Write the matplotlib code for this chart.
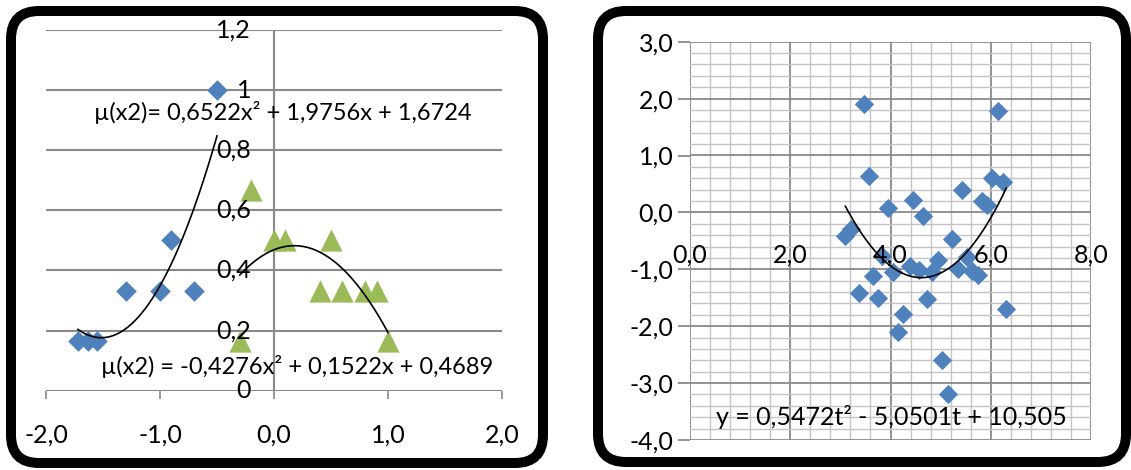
import numpy as np
import matplotlib
matplotlib.use("Agg")
import matplotlib.pyplot as plt
from matplotlib.patches import FancyBboxPatch

plt.rcParams['font.family'] = ['Lato', 'DejaVu Sans']

# left chart: two groups with quadratic trends
blue_x = [-1.72, -1.63, -1.55, -1.3, -1.0, -0.9, -0.7, -0.5]
blue_y = [0.167, 0.167, 0.167, 0.333, 0.333, 0.5, 0.333, 1.0]
green_x = [-0.3, -0.2, 0.0, 0.1, 0.4, 0.5, 0.6, 0.8, 0.9, 1.0]
green_y = [0.167, 0.667, 0.5, 0.5, 0.333, 0.5, 0.333, 0.333, 0.333, 0.167]
blue_coef = [0.6522, 1.9756, 1.6724]
green_coef = [-0.4276, 0.1522, 0.4689]
left_yticks = [0, 0.2, 0.4, 0.6, 0.8, 1.0, 1.2]
left_xticks = [-2, -1, 0, 1, 2]

# right chart: scatter with quadratic trend in t
t_vals = [3.48, 6.14, 3.58, 6.02, 6.25, 5.42, 4.45, 5.82, 5.93, 3.95, 4.64,
          5.22, 3.10, 3.22, 3.84, 4.94, 5.52, 3.66, 4.04, 4.38, 4.56, 4.82,
          5.34, 5.62, 5.75, 3.37, 3.76, 4.73, 6.31, 4.24, 4.15, 5.03, 5.14]
y_vals = [1.90, 1.79, 0.64, 0.60, 0.54, 0.40, 0.22, 0.20, 0.13, 0.07, -0.07,
          -0.47, -0.41, -0.30, -0.77, -0.83, -0.78, -1.11, -1.04, -0.95, -1.01, -1.04,
          -0.99, -1.03, -1.10, -1.41, -1.50, -1.52, -1.69, -1.79, -2.10, -2.60, -3.19]
right_coef = [0.5472, -5.0501, 10.505]
right_xticks = [0, 2, 4, 6, 8]
right_yticks = [-4, -3, -2, -1, 0, 1, 2, 3]

BLUE = '#4F81BD'
GREEN = '#9BBB59'
GRID = '#8a8a8a'
MINOR = '#c4c4c4'
FS = 18

W, H = 1131, 470
fig = plt.figure(figsize=(W / 100, H / 100), dpi=100)


def px_axes(x0, x1, ytop, ybot):
    return fig.add_axes([x0 / W, (H - ybot) / H, (x1 - x0) / W, (ybot - ytop) / H])


def comma(v, fmt):
    return format(v, fmt).replace('.', ',')


# rounded frames around both charts
frame = fig.add_axes([0, 0, 1, 1], zorder=5)
frame.set_xlim(0, W)
frame.set_ylim(H, 0)
frame.axis('off')
frame.patch.set_alpha(0)
for x0, x1, y0, y1 in [(11, 543, 11, 463), (598, 1126, 11, 462)]:
    frame.add_patch(FancyBboxPatch((x0, y0), x1 - x0, y1 - y0,
                                   boxstyle='round,pad=0,rounding_size=28',
                                   fill=False, lw=7.2, ec='black'))

# ---- left chart ----
ax = px_axes(46, 502, 30, 390.7)
ax.set_xlim(-2, 2)
ax.set_ylim(0, 1.2)
for s in ax.spines.values():
    s.set_visible(False)
for v in left_yticks:
    ax.axhline(v, color=GRID, lw=1.5, zorder=1)
    ax.text(-0.2, v, comma(v, 'g'), ha='right', va='center', fontsize=FS, zorder=4)
ax.plot([0, 0], [0, 1.2], color=GRID, lw=1.5, zorder=1)
ax.set_yticks([])
ax.set_xticks(left_xticks)
ax.set_xticklabels([comma(v, '.1f') for v in left_xticks], fontsize=FS)
ax.tick_params(axis='x', direction='out', length=6, width=1.2, color=GRID, pad=18)

ax.scatter(blue_x, blue_y, marker='D', s=10.5 ** 2, color=BLUE, zorder=3, linewidths=0)
ax.scatter(green_x, green_y, marker='^', s=16 ** 2, color=GREEN, zorder=3, linewidths=0)
bx = np.linspace(min(blue_x), max(blue_x), 200)
ax.plot(bx, np.polyval(blue_coef, bx), color='black', lw=1.2, zorder=3)
gx = np.linspace(min(green_x), max(green_x), 200)
ax.plot(gx, np.polyval(green_coef, gx), color='black', lw=1.2, zorder=3)
ax.text(0.075, 0.924, 'µ(x2)= 0,6522x² + 1,9756x + 1,6724', ha='center', va='center',
        fontsize=17, zorder=4)
ax.text(0.2, 0.079, 'µ(x2) = -0,4276x² + 0,1522x + 0,4689', ha='center', va='center',
        fontsize=17, zorder=4)

# ---- right chart ----
ax2 = px_axes(690, 1091, 41.7, 440)
ax2.set_xlim(0, 8)
ax2.set_ylim(-4, 3)
for s in ax2.spines.values():
    s.set_visible(False)
for v in np.arange(0, 8.01, 0.4):
    major = abs(v / 2 - round(v / 2)) < 1e-6
    ax2.axvline(v, color=GRID if major else MINOR, lw=1.3 if major else 1.0, zorder=1)
for v in np.arange(-4, 3.01, 0.2):
    major = abs(v - round(v)) < 1e-6
    ax2.axhline(v, color=GRID if major else MINOR, lw=1.3 if major else 1.0, zorder=1)
ax2.set_xticks([])
ax2.set_yticks(right_yticks)
ax2.set_yticklabels([comma(v, '.1f') for v in right_yticks], fontsize=FS)
ax2.tick_params(axis='y', direction='out', length=9, width=1.3, color=GRID, pad=3)
for v in right_xticks:
    ax2.text(v, -0.75, comma(v, '.1f'), ha='center', va='center', fontsize=FS, zorder=4)

ax2.scatter(t_vals, y_vals, marker='D', s=9.8 ** 2, color=BLUE, zorder=3, linewidths=0)
tx = np.linspace(min(t_vals), max(t_vals), 200)
ax2.plot(tx, np.polyval(right_coef, tx), color='black', lw=1.2, zorder=3)
ax2.text(4.01, -3.6, 'y = 0,5472t² - 5,0501t + 10,505', ha='center', va='center',
         fontsize=FS, zorder=4)

fig.savefig('out.png', dpi=100)
